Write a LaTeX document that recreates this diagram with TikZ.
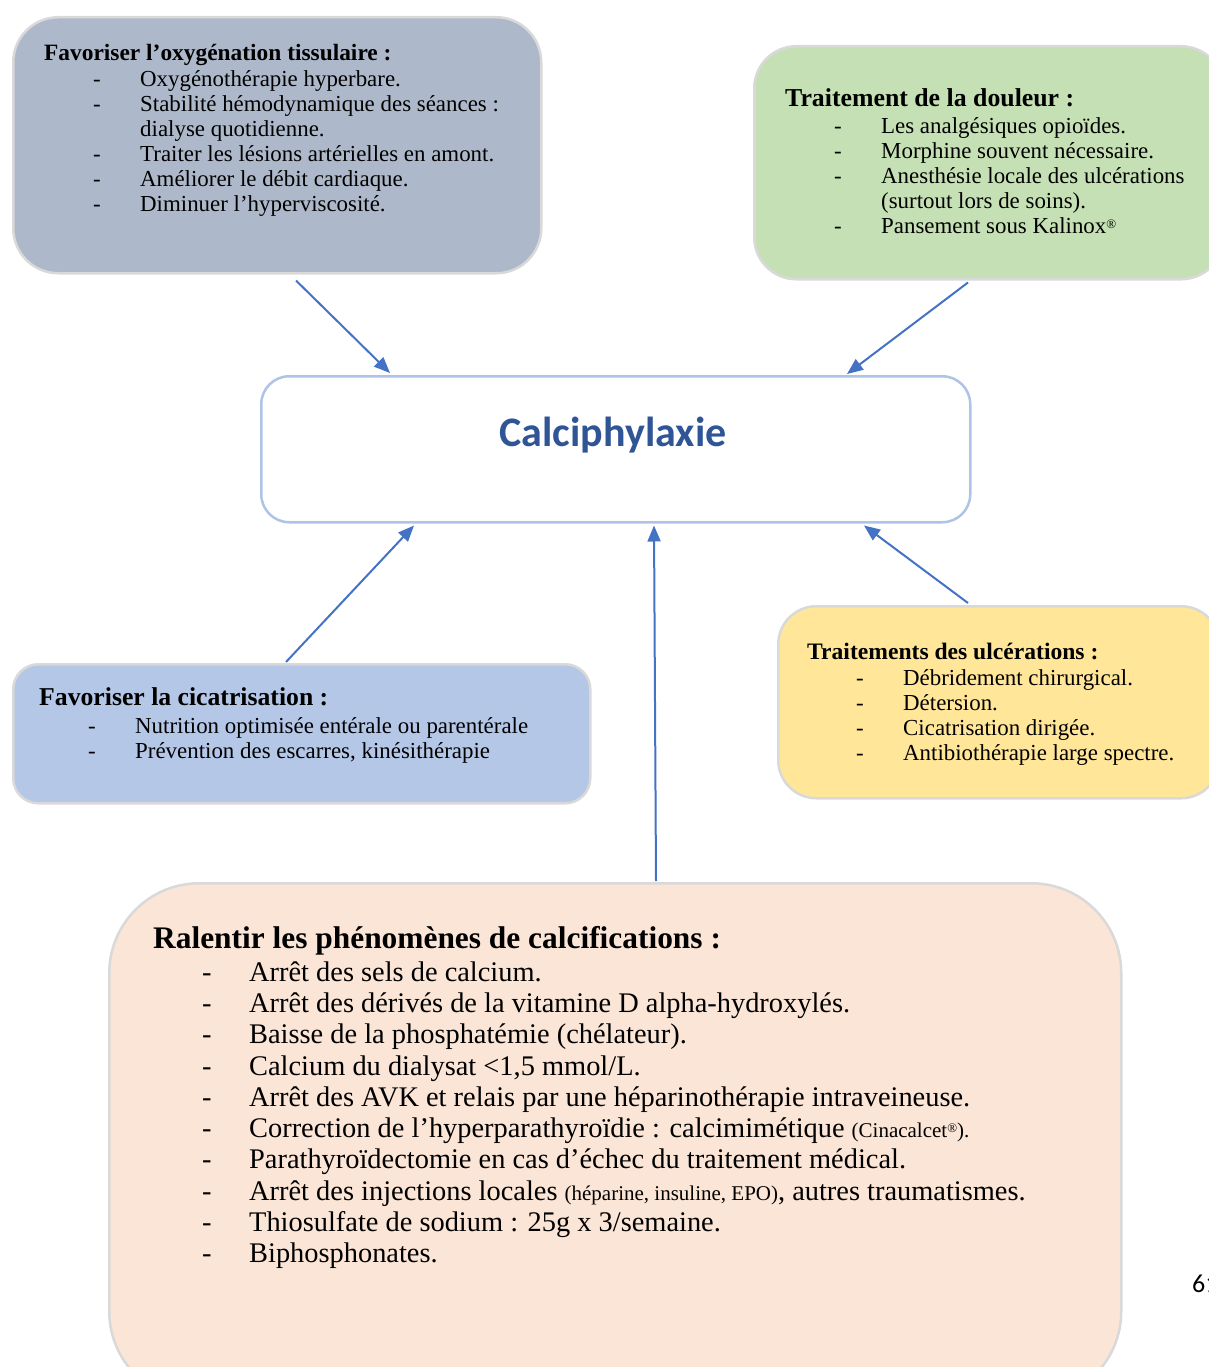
\documentclass[tikz,border=0pt]{standalone}
\usepackage{fontspec}
\setmainfont{Liberation Serif}
\newfontfamily\calib{Carlito}
\usetikzlibrary{arrows.meta,calc}
\definecolor{boxedge}{HTML}{D9D9D9}
\definecolor{ctredge}{HTML}{AFC3E6}
\definecolor{arrowblue}{HTML}{4472C4}
\definecolor{titleblue}{HTML}{2F5597}
\definecolor{fillA}{HTML}{ADB9CA}
\definecolor{fillB}{HTML}{C5E0B4}
\definecolor{fillC}{HTML}{B4C7E7}
\definecolor{fillD}{HTML}{FFE699}
\definecolor{fillE}{HTML}{FBE5D6}
\newcommand{\regmark}{\raisebox{0.55ex}{\fontsize{13}{13}\selectfont ®}}
\begin{document}
\begin{tikzpicture}[x=1pt,y=-1pt,
  box/.style={rectangle, draw=boxedge, line width=2.5pt, anchor=north west, inner sep=0pt},
  arr/.style={draw=arrowblue, line width=2pt, -{Triangle[length=16pt,width=13pt]}},
  ttl/.style={anchor=base west, inner sep=0pt},
  lst/.style={anchor=base west, inner sep=0pt, font=\fontsize{22.9}{25}\selectfont},
  biglst/.style={anchor=base west, inner sep=0pt, font=\fontsize{28.4}{31.33}\selectfont}]
\useasboundingbox (0,0) rectangle (1209,1367);

% boxes
\node[box, fill=fillA, minimum width=528pt, minimum height=256pt, rounded corners=45pt] (b1) at (12,16) {};
\node[box, fill=fillB, minimum width=469pt, minimum height=233pt, rounded corners=42pt] (b2) at (753,45) {};
\node[box, fill=white, draw=ctredge, minimum width=709pt, minimum height=146pt, rounded corners=28pt] (ctr) at (260,375) {};
\node[box, fill=fillC, minimum width=577pt, minimum height=139pt, rounded corners=25pt] (b4) at (12,663) {};
\node[box, fill=fillD, minimum width=441pt, minimum height=192pt, rounded corners=38pt] (b5) at (777,605) {};
\node[box, fill=fillE, minimum width=1012pt, minimum height=518pt, rounded corners=90pt] (b6) at (108,882) {};

% centre label
\node[anchor=base, inner sep=0pt, font=\calib\bfseries\fontsize{42}{46}\selectfont, text=titleblue] (ctrtxt) at (613,446) {Calciphylaxie};

% box 1
\node[ttl, font=\bfseries\fontsize{23.4}{28}\selectfont] (t1) at (44,61) {Favoriser l’oxygénation tissulaire :};
\node[lst] (l1) at (93,87) {\begin{tabular}[t]{@{}p{47pt}@{}l@{}}
- & Oxygénothérapie hyperbare.\\
- & Stabilité hémodynamique des séances :\\
  & dialyse quotidienne.\\
- & Traiter les lésions artérielles en amont.\\
- & Améliorer le débit cardiaque.\\
- & Diminuer l’hyperviscosité.
\end{tabular}};

% box 2
\node[ttl, font=\bfseries\fontsize{25.8}{30}\selectfont] (t2) at (785,107) {Traitement de la douleur :};
\node[lst] (l2) at (834,134) {\begin{tabular}[t]{@{}p{47pt}@{}l@{}}
- & Les analgésiques opioïdes.\\
- & Morphine souvent nécessaire.\\
- & Anesthésie locale des ulcérations\\
  & (surtout lors de soins).\\
- & Pansement sous Kalinox\regmark
\end{tabular}};

% box 4
\node[ttl, font=\bfseries\fontsize{25.7}{30}\selectfont] (t4) at (39,705) {Favoriser la cicatrisation :};
\node[lst] (l4) at (88,733) {\begin{tabular}[t]{@{}p{47pt}@{}l@{}}
- & Nutrition optimisée entérale ou parentérale\\
- & Prévention des escarres, kinésithérapie
\end{tabular}};

% box 5
\node[ttl, font=\bfseries\fontsize{23.6}{28}\selectfont] (t5) at (807,659) {Traitements des ulcérations :};
\node[lst] (l5) at (856,685) {\begin{tabular}[t]{@{}p{47pt}@{}l@{}}
- & Débridement chirurgical.\\
- & Détersion.\\
- & Cicatrisation dirigée.\\
- & Antibiothérapie large spectre.
\end{tabular}};

% box 6
\node[ttl, font=\bfseries\fontsize{31.4}{36}\selectfont] (t6) at (153,948) {Ralentir les phénomènes de calcifications :};
\node[biglst] (l6) at (202,981) {\begin{tabular}[t]{@{}p{47pt}@{}l@{}}
- & Arrêt des sels de calcium.\\
- & Arrêt des dérivés de la vitamine D alpha-hydroxylés.\\
- & Baisse de la phosphatémie (chélateur).\\
- & Calcium du dialysat <1,5 mmol/L.\\
- & Arrêt des AVK et relais par une héparinothérapie intraveineuse.\\
- & Correction de l’hyperparathyroïdie : calcimimétique {\fontsize{21}{22}\selectfont (Cinacalcet\regmark).}\\
- & Parathyroïdectomie en cas d’échec du traitement médical.\\
- & Arrêt des injections locales {\fontsize{21}{22}\selectfont (héparine, insuline, EPO)}, autres traumatismes.\\
- & Thiosulfate de sodium : 25g x 3/semaine.\\
- & Biphosphonates.
\end{tabular}};

% page number (cut by the page edge, as in the reference)
\node[anchor=base west, inner sep=0pt, font=\calib\fontsize{26}{30}\selectfont] (pg) at (1192,1292) {61};

% connectors
\coordinate (s1) at ($(b1.south west)+(284,6)$);
\coordinate (s2) at ($(b2.south west)+(215,2)$);
\coordinate (s4) at ($(b4.north west)+(274,-1)$);
\coordinate (s6) at ($(b6.north west)+(548,-1)$);
\coordinate (s5) at ($(b5.north west)+(191,-2)$);
\draw[arr] (s1) -- ($(ctr.north west)+(130,-2)$);
\draw[arr] (s2) -- ($(ctr.north west)+(587,-1)$);
\draw[arr] (s4) -- ($(ctr.south west)+(154,2)$);
\draw[arr] (s6) -- ($(ctr.south west)+(394,2)$);
\draw[arr] (s5) -- ($(ctr.south west)+(604,2)$);
\end{tikzpicture}
\end{document}
